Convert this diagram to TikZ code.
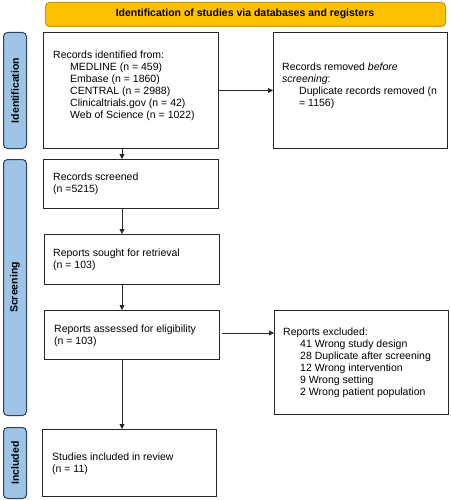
\documentclass[tikz,border=0pt]{standalone}
\usepackage{fontspec}
\setmainfont{Liberation Sans}
\usetikzlibrary{arrows.meta}
\definecolor{banneryellow}{HTML}{FFC000}
\definecolor{bannerborder}{HTML}{C49A12}
\definecolor{labelblue}{HTML}{9DC3E6}
\definecolor{labelborder}{HTML}{2E4058}
\begin{document}
\begin{tikzpicture}[x=1pt,y=-1pt,
  txt/.style={font=\fontsize{10.5}{12}\selectfont},
  box/.style={draw=black!85,line width=1pt,inner sep=0pt,outer sep=0pt,anchor=north west},
  tbox/.style={txt,align=left,inner sep=0pt,anchor=north west},
  banner/.style={draw=bannerborder,fill=banneryellow,line width=1pt,rounded corners=4pt,inner sep=0pt,anchor=north west},
  phase/.style={draw=labelborder,fill=labelblue,line width=1pt,rounded corners=4pt,inner sep=0pt,anchor=north west},
  phasetxt/.style={font=\fontsize{10.5}{12}\selectfont\bfseries,rotate=90},
  arr/.style={draw=black!85,line width=0.8pt,-{Triangle[length=5pt,width=5pt]}}]
\useasboundingbox (0,0) rectangle (450,500);
% banner
\node[banner,minimum width=400pt,minimum height=24pt] (ban) at (45,2) {};
\node[txt,font=\fontsize{10.5}{12}\selectfont\bfseries] (bantxt) at (245,14) {Identification of studies via databases and registers};
% phase labels
\node[phase,minimum width=23pt,minimum height=116pt] (p1) at (3,32) {};
\node[phasetxt] (p1t) at (p1.center) {Identification};
\node[phase,minimum width=23pt,minimum height=256pt] (p2) at (3,159) {};
\node[phasetxt] (p2t) at (p2.center) {Screening};
\node[phase,minimum width=23pt,minimum height=71pt] (p3) at (3,427) {};
\node[phasetxt] (p3t) at (p3.center) {Included};
% boxes
\node[box,minimum width=175pt,minimum height=115pt] (id) at (43,33) {};
\node[box,minimum width=174pt,minimum height=115pt] (rem) at (273,33) {};
\node[box,minimum width=175pt,minimum height=49pt] (scr) at (43,159) {};
\node[box,minimum width=175pt,minimum height=50pt] (sou) at (44,234) {};
\node[box,minimum width=175pt,minimum height=49pt] (ass) at (44,310) {};
\node[box,minimum width=174pt,minimum height=104pt] (exc) at (274,310) {};
\node[box,minimum width=174pt,minimum height=67pt] (inc) at (42,429) {};
% texts
\node[tbox] (tid) at (53,51) {Records identified from:\\
\hspace*{17pt}MEDLINE (n = 459)\\
\hspace*{17pt}Embase (n = 1860)\\
\hspace*{17pt}CENTRAL (n = 2988)\\
\hspace*{17pt}Clinicaltrials.gov (n = 42)\\
\hspace*{17pt}Web of Science (n = 1022)};
\node[tbox] (trem) at (282,63) {Records removed \textit{before}\\
\textit{screening}:\\
\hspace*{17pt}Duplicate records removed (n\\
\hspace*{17pt}= 1156)};
\node[tbox] (tscr) at (53,173) {Records screened\\(n =5215)};
\node[tbox] (tsou) at (53,249) {Reports sought for retrieval\\(n = 103)};
\node[tbox] (tass) at (54,325) {Reports assessed for eligibility\\(n = 103)};
\node[tbox] (texc) at (283,328) {Reports excluded:\\
\hspace*{17pt}41 Wrong study design\\
\hspace*{17pt}28 Duplicate after screening\\
\hspace*{17pt}12 Wrong intervention\\
\hspace*{17pt}9 Wrong setting\\
\hspace*{17pt}2 Wrong patient population};
\node[tbox] (tinc) at (52,453) {Studies included in review\\(n = 11)};
% arrows
\draw[arr] (id.east) -- (rem.west);
\draw[arr] ([xshift=-8.5pt]id.south) -- ([xshift=-8.5pt]id.south |- scr.north);
\draw[arr] ([xshift=-8.5pt]scr.south) -- ([xshift=-8.5pt]scr.south |- sou.north);
\draw[arr] ([xshift=-9.5pt]sou.south) -- ([xshift=-9.5pt]sou.south |- ass.north);
\draw[arr] ([xshift=3pt,yshift=1.5pt]ass.east) -- ([yshift=1.5pt]ass.east -| exc.west);
\draw[arr] ([xshift=-9.5pt]ass.south) -- ([xshift=-9.5pt]ass.south |- inc.north);
\end{tikzpicture}
\end{document}
